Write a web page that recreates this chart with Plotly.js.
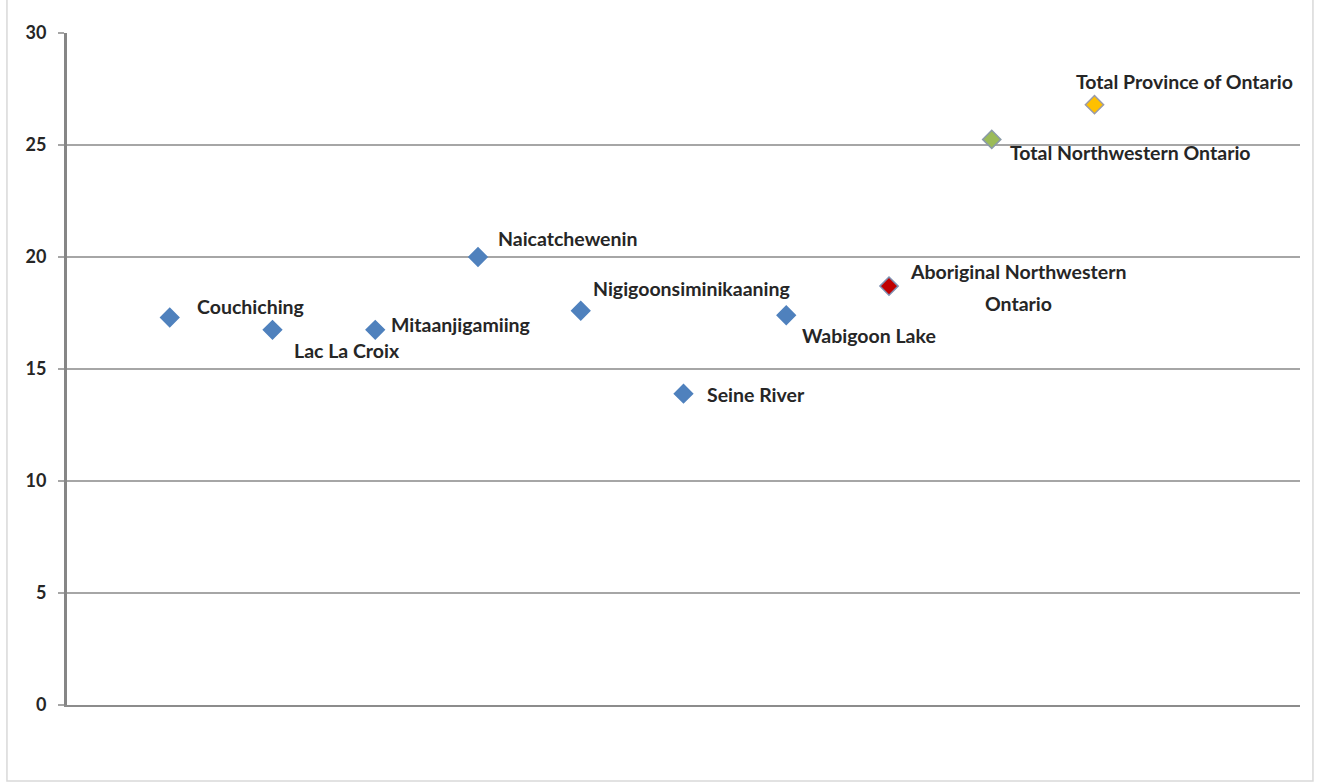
<!DOCTYPE html>
<html>
<head>
<meta charset="utf-8">
<script src="https://cdn.plot.ly/plotly-3.0.1.min.js"></script>
<style>
html,body{margin:0;padding:0;background:#fff;}
#chart{width:1317px;height:783px;}
</style>
</head>
<body>
<div id="chart"></div>
<script>
const categories = ["Couchiching","Lac La Croix","Mitaanjigamiing","Naicatchewenin","Nigigoonsiminikaaning","Seine River","Wabigoon Lake","Aboriginal Northwestern<br>Ontario","Total Northwestern Ontario","Total Province of Ontario"];
const positions = [1,2,3,4,5,6,7,8,9,10];
const values = [17.3,16.75,16.75,20.0,17.6,13.9,17.4,18.7,25.25,26.8];
const markerColors = ["#4f81bd","#4f81bd","#4f81bd","#4f81bd","#4f81bd","#4f81bd","#4f81bd","#c00000","#9bbb59","#ffc000"];
const markerLineColors = ["#4f81bd","#4f81bd","#4f81bd","#4f81bd","#4f81bd","#4f81bd","#4f81bd","#7f8fb0","#8a9aa8","#9a9aa8"];
const yTicks = [0,5,10,15,20,25,30];

// label placement relative to each point (pixels)
const labelShift = [[25,11,'left'],[19,-21,'left'],[14,5,'left'],[18,19,'left'],[10,22,'left'],[21,-1,'left'],[14,-20,'left'],[129,-1,'center'],[16,-13,'left'],[-21,23,'left']];
const LINE_GAP = 32;

const FONT = "Lato, 'Open Sans', sans-serif";
const trace = {
  x: positions, y: values, type: 'scatter', mode: 'markers',
  marker: {symbol: 'diamond', size: 14, color: markerColors, line: {color: markerLineColors, width: 1.5}},
  hoverinfo: 'skip', showlegend: false
};

const annotations = [];
categories.forEach((c, i) => {
  const lines = c.split('<br>');
  const n = lines.length;
  lines.forEach((ln, k) => {
    annotations.push({
      x: positions[i], y: values[i], xref: 'x', yref: 'y', text: ln, showarrow: false,
      xanchor: labelShift[i][2], yanchor: 'middle', align: 'center',
      xshift: labelShift[i][0],
      yshift: labelShift[i][1] + ((n - 1) / 2 - k) * LINE_GAP,
      font: {family: FONT, size: 19.5, color: '#262626', weight: 'bold'}
    });
  });
});

const layout = {
  width: 1317, height: 783,
  margin: {l: 67, r: 17, t: 33, b: 78},
  paper_bgcolor: '#fff', plot_bgcolor: '#fff',
  xaxis: {range: [0, 12], showgrid: false, zeroline: false, showticklabels: false, ticks: '',
          showline: true, linecolor: '#8c8c8c', linewidth: 2, fixedrange: true},
  yaxis: {range: [0, 30], tickvals: yTicks, ticktext: yTicks.map(String), showgrid: true,
          gridcolor: '#a6a6a6', gridwidth: 2, zeroline: false, showline: true, linecolor: '#868686',
          linewidth: 3, ticks: 'outside', ticklen: 6, tickwidth: 2, tickcolor: '#a6a6a6',
          tickfont: {family: FONT, size: 18, color: '#262626', weight: 'bold'}, ticklabelstandoff: 8, fixedrange: true},
  annotations: annotations,
  shapes: [{type: 'rect', xref: 'paper', yref: 'paper', x0: -0.0487, x1: 1.0105, y0: -0.113, y1: 1.1,
            line: {color: '#d9d9d9', width: 1.5}, fillcolor: 'rgba(0,0,0,0)', layer: 'below'}]
};

Plotly.newPlot('chart', [trace], layout, {displayModeBar: false, staticPlot: true});
</script>
</body>
</html>
